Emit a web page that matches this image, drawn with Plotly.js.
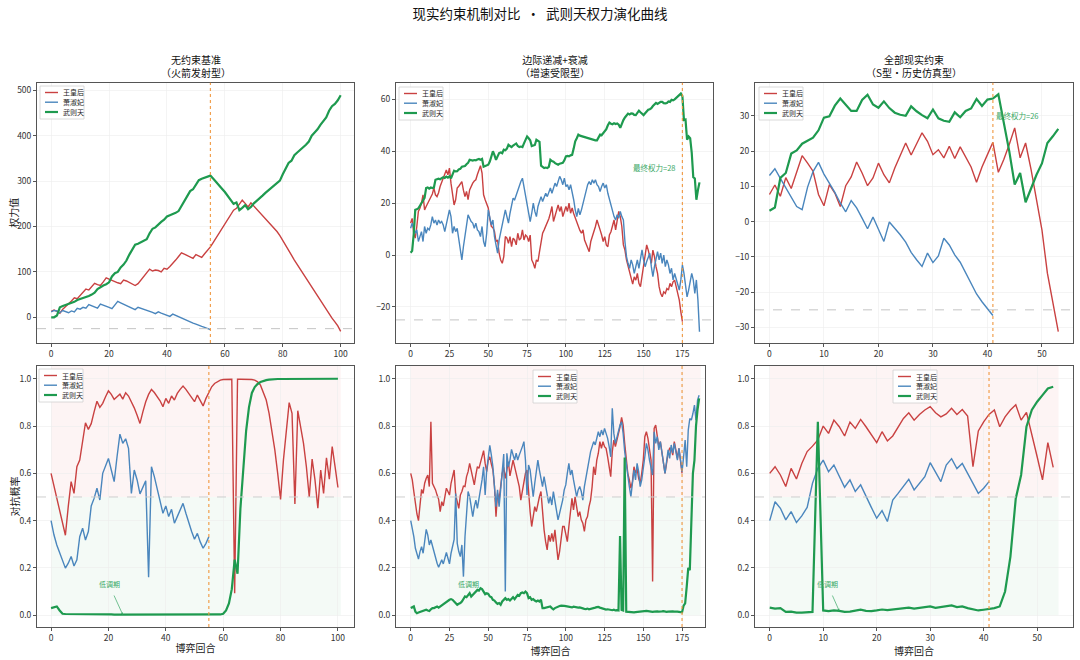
<!DOCTYPE html>
<html>
<head>
<meta charset="utf-8">
<script src="https://cdn.plot.ly/plotly-3.0.1.min.js"></script>
<style>
  html, body { margin: 0; padding: 0; background: #fff; }
  #plot { width: 1080px; height: 660px; }
</style>
</head>
<body>
<div id="plot"></div>
<script>
// names of the three players
const names = ['王皇后', '萧淑妃', '武则天'];
const colors = ['#c94141', '#4a86bd', '#1e9a4f'];

const panelTitles = [
  '无约束基准<br>（火箭发射型）',
  '边际递减+衰减<br>（增速受限型）',
  '全部现实约束<br>（S型·历史仿真型）'
];
const rowYTitles = ['权力值', '对抗概率'];

// round where the first rival falls out
const cutRounds = [55, 175, 41];
const eliminationLine = -25;

// ---- power values, scenario 1 (no constraint)
const wangPower1 = [
  13, 16, 13, 9, 18, 25, 30, 36, 43, 41,
  48, 55, 62, 60, 67, 75, 72, 70, 78, 87,
  84, 81, 79, 76, 74, 82, 80, 77, 73, 70,
  74, 82, 90, 98, 106, 102, 104, 103, 100, 108,
  106, 112, 118, 126, 134, 142, 139, 136, 133, 130,
  138, 135, 132, 140, 147, 155, 165, 175, 185, 195,
  205, 216, 227, 236, 240, 250, 258, 251, 243, 252,
  245, 238, 231, 225, 218, 211, 204, 197, 189, 180,
  170, 159, 148, 137, 126, 116, 107, 98, 89, 79,
  68, 58, 48, 38, 28, 19, 8, -2, -10, -19, -31
];
const xiaoPower1 = [
  12, 15, 14, 10, 15, 13, 10, 14, 12, 20,
  18, 22, 20, 28, 25, 23, 20, 29, 27, 25,
  22, 19, 27, 35, 32, 29, 26, 23, 20, 17,
  22, 20, 18, 16, 14, 11, 8, 12, 9, 7,
  5, 2, 7, 4, 1, -1, -4, -7, -10, -13,
  -15, -18, -20, -22, -25, -27
];
const wuPower1 = [
  0, 0, 4, 22, 25, 27, 29, 31, 34, 38,
  40, 42, 44, 47, 50, 54, 62, 67, 70, 73,
  77, 90, 97, 100, 110, 116, 125, 138, 150, 160,
  162, 165, 168, 172, 185, 195, 198, 205, 210, 215,
  222, 225, 227, 230, 234, 245, 258, 268, 278, 282,
  292, 302, 305, 307, 310, 312, 305, 297, 290, 283,
  276, 268, 259, 250, 253, 236, 241, 247, 238, 243,
  251, 256, 262, 268, 274, 279, 285, 290, 295, 301,
  315, 328, 340, 345, 357, 363, 368, 374, 380, 387,
  400, 407, 414, 424, 433, 440, 455, 465, 470, 478, 489
];

// ---- power values, scenario 2 (diminishing returns + decay)
const wangPower2 = [
  12.3, 14.1, 8.4, 6.5, 11, 16.8, 18, 20, 23.2, 17.4,
  18.7, 20, 21.3, 22, 23.5, 25.8, 23.2, 22.5, 24, 26.4,
  28, 30.2, 31.5, 32.8, 30.9, 33.5, 27.7, 23, 19.3, 21.3,
  25.8, 26.5, 27.7, 28.3, 25, 22.5, 24.5, 21.3, 25.1, 26.5,
  27.7, 28.5, 29, 31, 32.8, 34.4, 31.6, 23.2, 21.3, 19.5,
  18.1, 14, 11, 10.5, 9.1, 5.2, 5.8, 0.7, -1.9, -3.2,
  -0.6, 7.1, 6.5, 4.5, 7.1, 3.2, 6.5, 5.8, 3.9, 8.4,
  5.8, 6.5, 9.7, 5.8, 7.7, 7.1, 5.2, 7.7, -1.9, -3.2,
  -5.1, -1.9, -2.5, 1.3, 4.5, 8.4, 9.7, 11, 12.3, 14,
  16.1, 18.7, 12.9, 14.8, 17, 19.3, 16.8, 18.7, 14.8, 16.8,
  18.7, 16.8, 20, 16.1, 18.1, 16, 14.2, 12.5, 11, 9.5,
  8.4, 9.7, 5.8, 4.5, 3.2, 1.3, 5.2, 7, 8.4, 11,
  13.5, 11, 9.7, 7.7, 5.2, 7.1, 3.9, 3.2, 7.7, 9,
  11.5, 13.5, 9.7, 14.2, 16.8, 14.8, 11, 3.9, 1.9, -1.9,
  -4.5, -7.1, -9, -11.2, -8.4, -9.7, -7.1, -10.9, -12.2, -8.4,
  -3.2, 0.7, 3.9, 1.9, -0.6, -3.2, 1.9, -0.6, -4.5, -7.1,
  -12.2, -14.8, -16.1, -14.2, -14.8, -12.9, -13.5, -10.9, -12.2, -10.3,
  -9.7, -12.2, -14.8, -17.4, -21.9, -25.7
];
const xiaoPower2 = [
  10.3, 12.3, 10.3, 8.4, 9.7, 5.2, 7.1, 9, 5.2, 11,
  8.4, 10.3, 9.7, 11.6, 14.8, 12.3, 13.5, 11.6, 13.5, 12.3,
  12.9, 11.6, 9, 12.3, 14.2, 17.4, 14.8, 8.4, 11, 9,
  10.3, 5.8, 2.6, -1.9, 3.2, 7.1, 11.6, 15.5, 14.2, 12.9,
  12.3, 10.3, 12.3, 9.7, 9, 7.1, 11, 5.2, 3.2, 8.4,
  17.4, 14.2, 11.6, 13.5, 7.1, 3.9, 0.7, 5.8, 9, 12.3,
  14.8, 17.4, 14.8, 12.3, 16.1, 18.7, 21.9, 21.3, 23.2, 25.1,
  26.4, 28.3, 29.6, 26.4, 22.5, 19.3, 16.1, 12.9, 16.1, 20,
  16.8, 14.8, 18.7, 20.6, 22.5, 20.6, 21.9, 23.8, 22.5, 24.5,
  25.8, 23.8, 25.8, 27.7, 26.4, 28.3, 30.3, 29, 27.1, 29.6,
  26.4, 27.1, 25.1, 27.1, 24.5, 21.3, 17.4, 14.8, 18, 15.5,
  17.4, 20, 21.9, 24.5, 27.1, 28.3, 27.1, 29, 27.7, 29,
  27.1, 26.4, 24.5, 26.4, 27.7, 25.8, 27.1, 23.8, 21.3, 18.7,
  16.8, 14.8, 13.5, 15.5, 14.2, 16.8, 14.8, 13.5, 5.2, -0.6,
  -3.2, -5.1, -1.9, -3.8, -7.1, -4.5, -1.9, -5.1, -0.6, 2,
  -1.9, -4.5, -2.5, -0.6, 0.7, -4.5, -8.3, -4.5, -1.3, 1.3,
  -1.9, 0.7, -3.2, 0, -4.5, -1.9, -3.8, -7.1, -5.1, -9.6,
  -7.1, -9, -11.6, -13.5, -9.6, -3.8, -7.1, -10.9, -16.1, -13.5,
  -10.3, -7.1, -9.6, -14.8, -9.6, -17.4, -29.6
];
const wuPower2 = [
  0.9, 1.6, 8, 17.4, 17.6, 18, 19, 20, 20.6, 22,
  25.8, 26, 25.6, 26, 25.8, 26, 29, 29.2, 29.4, 29.2,
  29.6, 30, 29.7, 30.2, 29.8, 30.3, 29.5, 31, 32.5, 32.2,
  32.3, 33, 33.2, 34, 34.2, 34.3, 35, 35.5, 36.7, 36.5,
  36.4, 36.6, 36.5, 36.8, 37, 36.7, 37, 34, 34.2, 34.5,
  34.8, 36, 38, 40, 38.5, 36.7, 38, 39.3, 39.5, 39.2,
  40.6, 40.4, 41, 42.5, 42, 41.6, 42.2, 42.8, 43, 42,
  41.6, 41.8, 41.6, 43, 44.5, 45.7, 45, 44.2, 42, 42.2,
  42.4, 44.4, 44, 43.6, 34.4, 33.8, 33.5, 33.7, 33.5, 34,
  36.7, 36.2, 36, 35.4, 35, 34.8, 35.2, 35.4, 35.5, 36.5,
  38, 38.2, 38, 38.4, 38.6, 41, 43.8, 45, 46.4, 46,
  45.8, 45.6, 45.4, 45.2, 45, 45, 44.8, 44.6, 44.3, 44.2,
  44.2, 45.5, 46.4, 46.2, 47, 47.6, 48.5, 50, 51, 50.6,
  50.4, 50.8, 50.5, 50.7, 50.2, 49, 50.9, 52, 53, 53.8,
  54.5, 54.2, 54.6, 54.5, 54, 53.9, 54.8, 55.6, 55, 54.4,
  53.9, 54.6, 55.5, 56, 56.2, 56.6, 57.4, 58, 58.6, 58.2,
  58.8, 59, 59, 58.5, 58.4, 58.6, 59.2, 59, 59.8, 59.6,
  60, 60.5, 61.2, 61.6, 62.2, 61.2, 52, 52.2, 44.4, 45.7,
  45, 39.5, 30, 29.5, 21.3, 25, 28
];

// ---- power values, scenario 3 (all realistic constraints)
const wangPower3 = [
  7.7, 10.4, 7.2, 12.5, 9.4, 14.3, 18.7, 16.6, 14.3, 7.7,
  4.5, 10.5, 8.1, 4.3, 10.2, 12.7, 16.9, 13.8, 10.2, 12.4,
  16.6, 13.3, 11, 15.2, 19, 22.3, 18.9, 21.9, 25.2, 22.8,
  19, 20.4, 18.1, 21.4, 17.9, 21.2, 18.5, 15.5, 11.2, 15.5,
  19, 22.5, 14, 17.6, 21.9, 26.6, 18.1, 22.3, 14.8, 6.7,
  -2.3, -14.6, -23.1, -31.2
];
const xiaoPower3 = [
  13.1, 15, 12.3, 9.5, 6.7, 4.3, 3.4, 9.8, 14.2, 16.8,
  13.5, 11, 8.3, 5.3, 2.8, 6, 3.9, 1, -2, 1.3,
  -2.3, -5.6, -0.1, -1.8, -3.7, -5.8, -8.7, -10.8, -12.7, -8.9,
  -11.6, -9.7, -4.7, -6.6, -9.4, -11.5, -14.6, -17.6, -20.5, -22.7,
  -24.7, -26.6
];
const wuPower3 = [
  3.1, 4, 12.4, 13.8, 19.3, 20.2, 22.1, 22.9, 23.8, 25.9,
  29.5, 29.9, 32.9, 34.9, 33.3, 31.4, 31.4, 34.5, 36, 33.2,
  32.3, 34.1, 32.2, 30.9, 30.3, 30, 32.7, 31.3, 30.2, 29.3,
  31.8, 29.3, 28.6, 28.3, 31, 29.6, 31.4, 32.1, 34.8, 32.8,
  34.6, 34.9, 36.1, 28, 20, 10.5, 13.8, 5.5, 9.5, 13.3,
  16.5, 22.3, 24.2, 26.3
];

// ---- resistance probability, scenario 1
const wangProb1 = [
  0.60, 0.55, 0.50, 0.45, 0.40, 0.338, 0.46, 0.565, 0.515, 0.628,
  0.656, 0.734, 0.814, 0.786, 0.81, 0.86, 0.905, 0.879, 0.896, 0.924,
  0.949, 0.934, 0.913, 0.924, 0.935, 0.914, 0.941, 0.927, 0.903, 0.877,
  0.846, 0.811, 0.86, 0.903, 0.934, 0.955, 0.942, 0.927, 0.907, 0.882,
  0.917, 0.896, 0.927, 0.91, 0.938, 0.955, 0.969, 0.955, 0.938, 0.921,
  0.903, 0.931, 0.91, 0.885, 0.917, 0.942, 0.966, 0.98, 0.989, 0.994,
  0.997, 0.998, 0.998, 0.998, 0.093, 0.998, 0.998, 0.998, 0.998, 0.997,
  0.997, 0.994, 0.987, 0.973, 0.945, 0.91, 0.854, 0.783, 0.699, 0.6,
  0.49, 0.656, 0.783, 0.899, 0.854, 0.47, 0.865, 0.797, 0.727, 0.628,
  0.5, 0.66, 0.572, 0.453, 0.614, 0.515, 0.666, 0.575, 0.713, 0.628, 0.54
];
const xiaoProb1 = [
  0.40, 0.34, 0.297, 0.262, 0.227, 0.199, 0.22, 0.248, 0.208, 0.234,
  0.332, 0.368, 0.318, 0.354, 0.462, 0.494, 0.537, 0.487, 0.60, 0.631,
  0.663, 0.614, 0.565, 0.67, 0.766, 0.727, 0.746, 0.706, 0.515, 0.614,
  0.572, 0.513, 0.544, 0.569, 0.16, 0.628, 0.586, 0.537, 0.487, 0.431,
  0.462, 0.417, 0.448, 0.389, 0.417, 0.445, 0.473, 0.431, 0.389, 0.354,
  0.321, 0.346, 0.31, 0.283, 0.304, 0.332
];
const wuProb1 = [
  0.030, 0.034, 0.037, 0.020, 0.006, 0.005, 0.005, 0.005, 0.005, 0.005,
  0.005, 0.005, 0.006, 0.006, 0.005, 0.005, 0.005, 0.004, 0.003, 0.003,
  0.003, 0.003, 0.002, 0.002, 0.002, 0.002, 0.002, 0.002, 0.002, 0.002,
  0.002, 0.002, 0.002, 0.001, 0.001, 0.001, 0.001, 0.001, 0.001, 0.001,
  0.001, 0.001, 0.001, 0.001, 0.001, 0.001, 0.001, 0.001, 0.001, 0.001,
  0.001, 0.001, 0.001, 0.001, 0.001, 0.001, 0.001, 0.001, 0.002, 0.003,
  0.006, 0.02, 0.05, 0.11, 0.235, 0.175, 0.45, 0.64, 0.78, 0.88,
  0.94, 0.965, 0.978, 0.986, 0.991, 0.994, 0.996, 0.998, 0.999, 0.999,
  0.999, 0.999, 1.0, 1.0, 1.0, 1.0, 1.0, 1.0, 1.0, 1.0,
  1.0, 1.0, 1.0, 1.0, 1.0, 1.0, 1.0, 1.0, 1.0, 1.0, 1.0
];

// ---- resistance probability, scenario 2
const wangProb2 = [
  0.6, 0.572, 0.523, 0.473, 0.428, 0.4, 0.473, 0.532, 0.515, 0.558,
  0.579, 0.593, 0.544, 0.818, 0.558, 0.544, 0.53, 0.508, 0.49, 0.438,
  0.48, 0.462, 0.501, 0.537, 0.523, 0.508, 0.558, 0.593, 0.614, 0.508,
  0.473, 0.452, 0.508, 0.523, 0.546, 0.544, 0.586, 0.607, 0.642, 0.614,
  0.586, 0.551, 0.593, 0.628, 0.621, 0.649, 0.67, 0.696, 0.642, 0.607,
  0.656, 0.67, 0.639, 0.614, 0.546, 0.417, 0.515, 0.487, 0.544, 0.6,
  0.625, 0.579, 0.614, 0.649, 0.589, 0.625, 0.656, 0.628, 0.6, 0.579,
  0.544, 0.487, 0.53, 0.565, 0.6, 0.614, 0.515, 0.438, 0.375, 0.417,
  0.459, 0.438, 0.473, 0.501, 0.523, 0.438, 0.361, 0.311, 0.276, 0.339,
  0.311, 0.346, 0.311, 0.361, 0.29, 0.234, 0.269, 0.318, 0.375, 0.375,
  0.346, 0.311, 0.375, 0.438, 0.494, 0.445, 0.501, 0.459, 0.417, 0.438,
  0.403, 0.389, 0.354, 0.403, 0.417, 0.459, 0.487, 0.544, 0.628, 0.593,
  0.656, 0.685, 0.734, 0.706, 0.734, 0.713, 0.706, 0.67, 0.628, 0.586,
  0.692, 0.741, 0.713, 0.741, 0.762, 0.797, 0.837, 0.804, 0.727, 0.67,
  0.6, 0.572, 0.537, 0.565, 0.628, 0.6, 0.621, 0.579, 0.558, 0.6,
  0.656, 0.755, 0.776, 0.748, 0.706, 0.656, 0.142, 0.79, 0.804, 0.755,
  0.713, 0.734, 0.692, 0.656, 0.6, 0.642, 0.685, 0.706, 0.706, 0.677,
  0.734, 0.699, 0.663, 0.706, 0.656, 0.6
];
const xiaoProb2 = [
  0.4, 0.368, 0.332, 0.283, 0.262, 0.237, 0.269, 0.29, 0.262, 0.311,
  0.363, 0.339, 0.297, 0.318, 0.29, 0.269, 0.248, 0.22, 0.203, 0.217,
  0.234, 0.217, 0.241, 0.265, 0.241, 0.217, 0.262, 0.29, 0.321, 0.515,
  0.304, 0.269, 0.248, 0.297, 0.163, 0.332, 0.445, 0.523, 0.501, 0.462,
  0.417, 0.459, 0.487, 0.452, 0.494, 0.523, 0.572, 0.628, 0.508, 0.614,
  0.67, 0.718, 0.677, 0.628, 0.544, 0.459, 0.53, 0.459, 0.53, 0.6,
  0.682, 0.1, 0.685, 0.628, 0.656, 0.701, 0.677, 0.656, 0.685, 0.656,
  0.677, 0.692, 0.713, 0.734, 0.656, 0.508, 0.635, 0.614, 0.558, 0.501,
  0.558, 0.614, 0.656, 0.614, 0.579, 0.544, 0.586, 0.551, 0.515, 0.473,
  0.501, 0.466, 0.523, 0.487, 0.452, 0.403, 0.431, 0.459, 0.487, 0.53,
  0.551, 0.6, 0.642, 0.593, 0.614, 0.572, 0.53, 0.501, 0.53, 0.544,
  0.523, 0.487, 0.544, 0.586, 0.628, 0.67, 0.692, 0.713, 0.734, 0.72,
  0.748, 0.776, 0.755, 0.783, 0.762, 0.79, 0.769, 0.748, 0.713, 0.67,
  0.875, 0.769, 0.727, 0.755, 0.783, 0.804, 0.818, 0.769, 0.692, 0.635,
  0.593, 0.544, 0.501, 0.551, 0.614, 0.572, 0.642, 0.607, 0.544, 0.572,
  0.614, 0.67, 0.727, 0.699, 0.656, 0.628, 0.593, 0.776, 0.727, 0.755,
  0.699, 0.734, 0.685, 0.656, 0.6, 0.649, 0.699, 0.663, 0.72, 0.685,
  0.727, 0.692, 0.656, 0.706, 0.649, 0.607, 0.67, 0.741, 0.628, 0.783,
  0.832, 0.825, 0.853, 0.889, 0.825, 0.91, 0.93
];
const wuProb2 = [
  0.03, 0.034, 0.037, 0.015, 0.008, 0.011, 0.014, 0.017, 0.020, 0.020,
  0.023, 0.020, 0.018, 0.025, 0.030, 0.030, 0.034, 0.037, 0.032, 0.037,
  0.044, 0.048, 0.051, 0.058, 0.062, 0.065, 0.068, 0.065, 0.058, 0.051,
  0.044, 0.048, 0.051, 0.058, 0.072, 0.079, 0.076, 0.086, 0.093, 0.079,
  0.086, 0.093, 0.096, 0.107, 0.104, 0.114, 0.11, 0.1, 0.089, 0.093,
  0.09, 0.079, 0.076, 0.065, 0.062, 0.054, 0.048, 0.051, 0.044, 0.058,
  0.065, 0.072, 0.065, 0.068, 0.062, 0.068, 0.076, 0.068, 0.079, 0.086,
  0.082, 0.093, 0.096, 0.093, 0.1, 0.093, 0.072, 0.076, 0.065, 0.068,
  0.062, 0.058, 0.062, 0.058, 0.065, 0.03, 0.03, 0.032, 0.034, 0.035,
  0.037, 0.03, 0.025, 0.03, 0.034, 0.037, 0.039, 0.04, 0.038, 0.039,
  0.038, 0.036, 0.037, 0.035, 0.033, 0.036, 0.034, 0.035, 0.032, 0.033,
  0.03, 0.028, 0.027, 0.026, 0.028, 0.025, 0.026, 0.028, 0.03, 0.032,
  0.034, 0.035, 0.032, 0.03, 0.027, 0.026, 0.024, 0.025, 0.023, 0.022,
  0.021, 0.023, 0.02, 0.021, 0.02, 0.335, 0.022, 0.02, 0.667, 0.015,
  0.014, 0.013, 0.012, 0.011, 0.012, 0.013, 0.014, 0.013, 0.015, 0.016,
  0.017, 0.016, 0.018, 0.017, 0.015, 0.016, 0.014, 0.015, 0.017, 0.016,
  0.015, 0.014, 0.016, 0.017, 0.015, 0.014, 0.015, 0.016, 0.017, 0.016,
  0.015, 0.016, 0.015, 0.014, 0.013, 0.012, 0.04, 0.05, 0.12, 0.2,
  0.19, 0.375, 0.6, 0.656, 0.8, 0.87, 0.917
];

// ---- resistance probability, scenario 3
const wangProb3 = [
  0.6, 0.628, 0.593, 0.544, 0.621, 0.576, 0.642, 0.692, 0.715, 0.741,
  0.8, 0.769, 0.825, 0.797, 0.758, 0.817, 0.79, 0.828, 0.797, 0.762,
  0.73, 0.776, 0.737, 0.758, 0.797, 0.832, 0.856, 0.825, 0.849, 0.868,
  0.882, 0.856, 0.839, 0.851, 0.875, 0.849, 0.87, 0.842, 0.628, 0.779,
  0.818, 0.849, 0.868, 0.797, 0.839, 0.868, 0.89, 0.825, 0.858, 0.769,
  0.67, 0.572, 0.73, 0.625
];
const xiaoProb3 = [
  0.4, 0.48, 0.452, 0.403, 0.438, 0.392, 0.42, 0.456, 0.558, 0.621,
  0.656, 0.607, 0.635, 0.59, 0.541, 0.572, 0.523, 0.551, 0.501, 0.456,
  0.41, 0.442, 0.396, 0.487, 0.515, 0.544, 0.575, 0.53, 0.558, 0.586,
  0.645, 0.607, 0.565, 0.635, 0.662, 0.62, 0.642, 0.6, 0.558, 0.515,
  0.537, 0.565
];
const wuProb3 = [
  0.032, 0.028, 0.03, 0.014, 0.015, 0.011, 0.011, 0.013, 0.014, 0.818,
  0.02, 0.017, 0.02, 0.018, 0.014, 0.015, 0.02, 0.023, 0.018, 0.017,
  0.02, 0.024, 0.021, 0.024, 0.027, 0.03, 0.032, 0.028, 0.031, 0.034,
  0.037, 0.031, 0.035, 0.039, 0.041, 0.034, 0.037, 0.03, 0.025, 0.02,
  0.023, 0.025, 0.03, 0.037, 0.1, 0.248, 0.494, 0.593, 0.797, 0.868,
  0.903, 0.931, 0.959, 0.966
];

const powerSets = [
  [wangPower1, xiaoPower1, wuPower1],
  [wangPower2, xiaoPower2, wuPower2],
  [wangPower3, xiaoPower3, wuPower3]
];
const probSets = [
  [wangProb1, xiaoProb1, wuProb1],
  [wangProb2, xiaoProb2, wuProb2],
  [wangProb3, xiaoProb3, wuProb3]
];

// axis ranges and ticks per column
const xRangesTop = [[-4.9, 104.6], [-9.4, 194.7], [-2.65, 55.7]];
const xRangesBottom = [[-4.9, 105.6], [-9.5, 189.8], [-2.75, 56.7]];
const xTicks = [20, 25, 10];
const yRangesTop = [[-56.6, 516.7], [-33.9, 66.4], [-34.4, 39.4]];
const yTicksTop = [100, 20, 10];
// where the "final power" label sits (data coords)
const finalLabelPos = [[86, 522], [157, 33.6], [45.5, 30.2]];

const W = 1080, H = 660;
const colDomTop = [[37, 354], [396, 713], [755, 1073]];
const colDomBottom = [[37, 354], [396, 705], [755, 1073]];
const rowTop = [82.7, 343], rowBottom = [366, 627];

const fontFam = '"Noto Sans CJK SC", "DejaVu Sans", sans-serif';
const txt = '#222';

function xd(px) { return [px[0] / W, px[1] / W]; }
function yd(py) { return [1 - py[1] / H, 1 - py[0] / H]; }
function idx(arr) { return arr.map((_, i) => i); }

const data = [];
const layout = {
  width: W, height: H,
  margin: {l: 0, r: 0, t: 0, b: 0},
  paper_bgcolor: '#fff',
  plot_bgcolor: '#fff',
  showlegend: false,
  font: {family: fontFam, color: txt, size: 8},
  title: {
    text: '现实约束机制对比\u00a0\u00a0·\u00a0\u00a0武则天权力演化曲线',
    x: 0.5, xanchor: 'center', y: 1 - 14 / H, yanchor: 'middle',
    font: {family: fontFam, size: 13.5, color: '#111'}
  },
  shapes: [],
  annotations: []
};

function axisCommon() {
  return {
    showgrid: true, gridcolor: '#ececec', gridwidth: 0.6,
    zeroline: false, showline: true, mirror: true,
    linecolor: '#555', linewidth: 1,
    ticks: 'outside', ticklen: 3, tickcolor: '#555',
    tickfont: {family: fontFam, size: 8.5, color: '#333'},
    automargin: false, fixedrange: true
  };
}

// small framed key, drawn in pixel space (left/top of the box)
function addKey(left, top) {
  const px = v => v / W, py = v => 1 - v / H;
  layout.shapes.push({
    type: 'rect', xref: 'paper', yref: 'paper',
    x0: px(left), x1: px(left + 44), y0: py(top + 33), y1: py(top),
    fillcolor: 'rgba(255,255,255,0.85)', line: {color: '#d0d0d0', width: 0.8}
  });
  [6.5, 16.2, 26].forEach((dy, k) => {
    layout.shapes.push({
      type: 'line', xref: 'paper', yref: 'paper',
      x0: px(left + 5), x1: px(left + 18), y0: py(top + dy), y1: py(top + dy),
      line: {color: colors[k], width: k === 2 ? 2.2 : 1.4}
    });
    layout.annotations.push({
      xref: 'paper', yref: 'paper', x: px(left + 21), y: py(top + dy),
      xanchor: 'left', yanchor: 'middle', showarrow: false,
      text: names[k], font: {family: fontFam, size: 7, color: txt}
    });
  });
}

for (let row = 0; row < 2; row++) {
  for (let col = 0; col < 3; col++) {
    const n = row * 3 + col + 1;
    const sfx = n === 1 ? '' : String(n);
    const xa = 'x' + sfx, ya = 'y' + sfx;
    const sets = row === 0 ? powerSets[col] : probSets[col];

    sets.forEach((ys, k) => {
      data.push({
        type: 'scatter', mode: 'lines',
        x: idx(ys), y: ys,
        name: names[k],
        xaxis: xa, yaxis: ya,
        line: {color: colors[k], width: k === 2 ? 2.2 : 1.4},
        hoverinfo: 'skip'
      });
    });

    const xAx = Object.assign(axisCommon(), {
      domain: xd(row === 0 ? colDomTop[col] : colDomBottom[col]),
      range: row === 0 ? xRangesTop[col] : xRangesBottom[col],
      dtick: xTicks[col], tick0: 0,
      anchor: ya
    });
    const yAx = Object.assign(axisCommon(), {
      domain: yd(row === 0 ? rowTop : rowBottom),
      anchor: xa
    });
    if (row === 0) {
      yAx.range = yRangesTop[col];
      yAx.dtick = yTicksTop[col];
      yAx.tick0 = 0;
    } else {
      yAx.range = [-0.05, 1.054];
      yAx.dtick = 0.2; yAx.tick0 = 0;
      yAx.tickformat = '.1f';
      xAx.title = {text: '博弈回合', font: {family: fontFam, size: 10, color: txt}, standoff: 2};
    }
    layout['xaxis' + sfx] = xAx;
    layout['yaxis' + sfx] = yAx;

    if (col === 0) {
      const r = row === 0 ? rowTop : rowBottom;
      layout.annotations.push({
        xref: 'paper', yref: 'paper',
        x: 14 / W, y: 1 - ((r[0] + r[1]) / 2) / H,
        xanchor: 'center', yanchor: 'middle', textangle: -90,
        text: rowYTitles[row], showarrow: false,
        font: {family: fontFam, size: 10, color: txt}
      });
    }

    const cut = cutRounds[col];
    const lenAll = Math.max(...sets.map(s => s.length));

    if (row === 0) {
      layout.shapes.push({
        type: 'line', xref: xa + ' domain', yref: ya,
        x0: 0, x1: 1, y0: eliminationLine, y1: eliminationLine,
        line: {color: '#c4c4c4', width: 1, dash: 'dash'}
      });
      const wu = sets[2];
      layout.annotations.push({
        xref: xa, yref: ya,
        x: finalLabelPos[col][0], y: finalLabelPos[col][1],
        text: '最终权力=' + Math.round(wu[wu.length - 1]),
        showarrow: false,
        font: {family: fontFam, size: 7.5, color: '#3aa866'}
      });
      // subplot title
      const d = colDomTop[col];
      layout.annotations.push({
        xref: 'paper', yref: 'paper',
        x: ((d[0] + d[1]) / 2) / W, y: 1 - 82 / H,
        xanchor: 'center', yanchor: 'bottom',
        text: panelTitles[col], showarrow: false,
        font: {family: fontFam, size: 10, color: '#111'}
      });
    } else {
      // danger / safe bands
      layout.shapes.push({
        type: 'rect', xref: xa, yref: ya, layer: 'below',
        x0: 0, x1: lenAll, y0: 0.5, y1: 1.054,
        fillcolor: 'rgba(220,60,60,0.06)', line: {width: 0}
      });
      layout.shapes.push({
        type: 'rect', xref: xa, yref: ya, layer: 'below',
        x0: 0, x1: lenAll, y0: 0, y1: 0.5,
        fillcolor: 'rgba(40,160,80,0.05)', line: {width: 0}
      });
      layout.shapes.push({
        type: 'line', xref: xa + ' domain', yref: ya,
        x0: 0, x1: 1, y0: 0.5, y1: 0.5,
        line: {color: '#cfcfcf', width: 1, dash: 'dash'}
      });
      // low-profile phase marker
      const wu = sets[2];
      const qi = Math.floor(wu.length / 4);
      layout.annotations.push({
        xref: xa, yref: ya, axref: xa, ayref: ya,
        x: qi, y: wu[qi],
        ax: wu.length * 0.2, ay: 0.13,
        text: '低调期', showarrow: true,
        arrowhead: 2, arrowsize: 0.6, arrowwidth: 0.7, arrowcolor: '#3aa866',
        standoff: 0, startstandoff: 5,
        font: {family: fontFam, size: 7, color: '#3aa866'}
      });
    }
    layout.shapes.push({
      type: 'line', xref: xa, yref: ya + ' domain',
      x0: cut, x1: cut, y0: 0, y1: 1,
      line: {color: 'rgba(240,150,60,0.9)', width: 1.2, dash: 'dot'}
    });
  }
}

// keys: top-left in the power panels, bottom panels per reference
addKey(40, 86);
addKey(399, 87);
addKey(759, 87);
addKey(39, 369);
addKey(533, 370);
addKey(893, 370);

Plotly.newPlot('plot', data, layout, {displayModeBar: false, staticPlot: true});
</script>
</body>
</html>
